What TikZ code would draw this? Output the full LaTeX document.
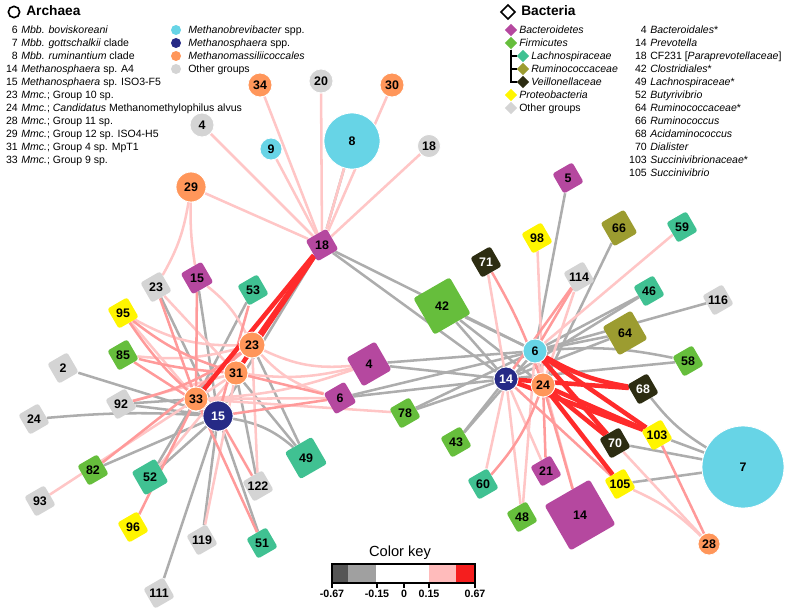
\documentclass[tikz,border=0pt]{standalone}
\usepackage{fontspec}
\setmainfont{Liberation Sans}
\usetikzlibrary{positioning}
\pgfdeclarelayer{background}
\pgfsetlayers{background,main}
\tikzstyle{pixels} = [x=0.75pt, y=-0.75pt]
\definecolor{brevColor}{HTML}{67D4E6}
\definecolor{sphaeraColor}{HTML}{262A86}
\definecolor{massColor}{HTML}{FF965A}
\definecolor{otherColor}{HTML}{D4D4D4}
\definecolor{bacteroColor}{HTML}{B5489F}
\definecolor{firmiColor}{HTML}{66BE3C}
\definecolor{lachnoColor}{HTML}{40C192}
\definecolor{rumiColor}{HTML}{9C9C30}
\definecolor{veilloColor}{HTML}{2D2D12}
\definecolor{proteoColor}{HTML}{FFF500}
\definecolor{negColor}{HTML}{ADADAD}
\definecolor{posLightColor}{HTML}{FFC6C6}
\definecolor{posMidColor}{HTML}{FF9A9A}
\definecolor{posStrongColor}{HTML}{FF2B2B}
\definecolor{keyDark}{HTML}{555555}
\definecolor{keyGray}{HTML}{A0A0A0}
\definecolor{keyPink}{HTML}{FFBBBB}
\definecolor{keyRed}{HTML}{F51E1E}
\tikzstyle{nodeText} = [font=\fontsize{9.3}{9.3}\selectfont\bfseries]
\tikzstyle{archaeonStyle} = [circle, draw=white, line width=0.6pt, inner sep=0pt, nodeText]
\tikzstyle{bacteriumStyle} = [rectangle, rounded corners=2pt, rotate=30, inner sep=0pt]
\tikzstyle{legendText} = [font=\fontsize{7.9}{9}\selectfont, inner sep=0pt]
\tikzstyle{headText} = [font=\fontsize{10.3}{10.3}\selectfont\bfseries, inner sep=0pt]
\tikzstyle{keyLabel} = [font=\fontsize{8}{8}\selectfont\bfseries, inner sep=1pt]
\tikzstyle{negEdge} = [color=negColor, line width=1.9pt]
\tikzstyle{posLightEdge} = [color=posLightColor, line width=1.9pt]
\tikzstyle{posMidEdge} = [color=posMidColor, line width=1.9pt]
\tikzstyle{posStrongEdge} = [color=posStrongColor, line width=3.4pt]
\newcommand{\archaeon}[5]{\node [archaeonStyle, fill=#4, text=#5, minimum size=1.5*#3pt] (a#1) at (#2) {#1};}
\newcommand{\bacterium}[5]{
  \node [bacteriumStyle, fill=#4, minimum size=0.75*#3pt] (b#1) at (#2) {};
  \node [nodeText, text=#5] (t#1) at (b#1.center) {#1};}

\begin{document}
\begin{tikzpicture}[pixels]
  \useasboundingbox (0,0) rectangle (787,610);
  % archaea legend
  \node [circle, draw, line width=1.2pt, minimum size=8.5pt, inner sep=0pt] (archaeaMark) at (14,12) {};
  \node [headText, anchor=mid west] (archaeaHead) at (26,12) {Archaea};
  \foreach \num/\name [count=\row] in {6/\textit{Mbb. boviskoreani},
      7/\textit{Mbb. gottschalkii} clade, 8/\textit{Mbb. ruminantium} clade,
      14/\textit{Methanosphaera} sp. A4, 15/\textit{Methanosphaera} sp. ISO3-F5,
      23/\textit{Mmc.}; Group 10 sp., 24/\textit{Mmc.}; \textit{Candidatus} Methanomethylophilus alvus,
      28/\textit{Mmc.}; Group 11 sp., 29/\textit{Mmc.}; Group 12 sp. ISO4-H5,
      31/\textit{Mmc.}; Group 4 sp. MpT1, 33/\textit{Mmc.}; Group 9 sp.} {
    \node [legendText, anchor=mid east] (archNum\row) at (18,17+13*\row) {\num};
    \node [legendText, anchor=mid west] (archName\row) at (21,17+13*\row) {\name};
  }
  \foreach \col/\name [count=\row] in {brevColor/\textit{Methanobrevibacter} spp.,
      sphaeraColor/\textit{Methanosphaera} spp., massColor/\textit{Methanomassiliicoccales},
      otherColor/Other groups} {
    \node [circle, fill=\col, minimum size=7.5pt, inner sep=0pt] (archDot\row) at (176,17+13*\row) {};
    \node [legendText, anchor=mid west] (archGroup\row) at (188,17+13*\row) {\name};
  }
  % bacteria legend
  \node [rectangle, rotate=45, draw, line width=1.2pt, minimum size=7.5pt, inner sep=0pt] (bacteriaMark) at (508,12) {};
  \node [headText, anchor=mid west] (bacteriaHead) at (521,12) {Bacteria};
  \foreach \col/\xpos/\name [count=\row] in {bacteroColor/511/\textit{Bacteroidetes},
      firmiColor/511/\textit{Firmicutes}, lachnoColor/523/\textit{Lachnospiraceae},
      rumiColor/523/\textit{Ruminococcaceae}, veilloColor/523/\textit{Veillonellaceae},
      proteoColor/511/\textit{Proteobacteria}, otherColor/511/Other groups} {
    \node [rectangle, rotate=45, fill=\col, minimum size=6.5pt, inner sep=0pt] (bactDot\row) at (\xpos,17+13*\row) {};
    \node [legendText, anchor=mid west] (bactGroup\row) at (\xpos+8,17+13*\row) {\name};
  }
  \foreach \row in {3,4,5}
    \draw [line width=1.1pt] (bactDot2) |- (bactDot\row);
  \foreach \num/\name [count=\row] in {4/\textit{Bacteroidales}*, 14/\textit{Prevotella},
      18/CF231 [\textit{Paraprevotellaceae}], 42/\textit{Clostridiales}*,
      49/\textit{Lachnospiraceae}*, 52/\textit{Butyrivibrio}, 64/\textit{Ruminococcaceae}*,
      66/\textit{Ruminococcus}, 68/\textit{Acidaminococcus}, 70/\textit{Dialister},
      103/\textit{Succinivibrionaceae}*, 105/\textit{Succinivibrio}} {
    \node [legendText, anchor=mid east] (bactNum\row) at (647,17+13*\row) {\num};
    \node [legendText, anchor=mid west] (bactName\row) at (650,17+13*\row) {\name};
  }
  % archaea
  \archaeon{34}{260,85}{12}{massColor}{black}
  \archaeon{20}{321,81}{12}{otherColor}{black}
  \archaeon{30}{392,85}{12}{massColor}{black}
  \archaeon{4}{202,125}{12}{otherColor}{black}
  \archaeon{9}{271,149}{11}{brevColor}{black}
  \archaeon{8}{352,141}{28}{brevColor}{black}
  \archaeon{18}{429,146}{11.5}{otherColor}{black}
  \archaeon{29}{191,187}{15}{massColor}{black}
  \archaeon{23}{252,345}{13}{massColor}{black}
  \archaeon{31}{236,373}{12}{massColor}{black}
  \archaeon{33}{196,399}{12}{massColor}{black}
  \archaeon{15}{218,416}{15}{sphaeraColor}{white}
  \archaeon{6}{535,351}{12}{brevColor}{black}
  \archaeon{14}{506,379}{12}{sphaeraColor}{white}
  \archaeon{24}{543,385}{12}{massColor}{black}
  \archaeon{7}{743,467}{41}{brevColor}{black}
  \archaeon{28}{709,544}{11}{massColor}{black}
  % bacteria
  \bacterium{18}{322,245}{24}{bacteroColor}{black}
  \bacterium{15}{197,278}{24}{bacteroColor}{black}
  \bacterium{23}{156,287}{23}{otherColor}{black}
  \bacterium{53}{253,290}{23}{lachnoColor}{black}
  \bacterium{95}{123,313}{23}{proteoColor}{black}
  \bacterium{85}{123,355}{23}{firmiColor}{black}
  \bacterium{2}{63,368}{23}{otherColor}{black}
  \bacterium{4}{369,364}{33}{bacteroColor}{black}
  \bacterium{6}{340,398}{24}{bacteroColor}{black}
  \bacterium{92}{121,404}{23}{otherColor}{black}
  \bacterium{24}{34,419}{23}{otherColor}{black}
  \bacterium{82}{93,470}{23}{firmiColor}{black}
  \bacterium{52}{150,477}{27}{lachnoColor}{black}
  \bacterium{93}{40,501}{23}{otherColor}{black}
  \bacterium{96}{133,527}{23}{proteoColor}{black}
  \bacterium{119}{202,540}{23}{otherColor}{black}
  \bacterium{122}{258,486}{23}{otherColor}{black}
  \bacterium{51}{262,543}{23}{lachnoColor}{black}
  \bacterium{111}{159,593}{23}{otherColor}{black}
  \bacterium{49}{306,458}{31}{lachnoColor}{black}
  \bacterium{78}{405,413}{23}{firmiColor}{black}
  \bacterium{42}{442,306}{42}{firmiColor}{black}
  \bacterium{71}{486,262}{23}{veilloColor}{white}
  \bacterium{98}{537,238}{23}{proteoColor}{black}
  \bacterium{5}{568,178}{23}{bacteroColor}{black}
  \bacterium{114}{579,277}{23}{otherColor}{black}
  \bacterium{66}{619,228}{27}{rumiColor}{black}
  \bacterium{59}{682,227}{23}{lachnoColor}{black}
  \bacterium{46}{649,291}{23}{lachnoColor}{black}
  \bacterium{116}{718,300}{23}{otherColor}{black}
  \bacterium{64}{625,333}{33}{rumiColor}{black}
  \bacterium{58}{688,361}{23}{firmiColor}{black}
  \bacterium{68}{643,389}{23}{veilloColor}{white}
  \bacterium{103}{657,435}{23}{proteoColor}{black}
  \bacterium{70}{615,443}{23}{veilloColor}{white}
  \bacterium{105}{620,484}{23}{proteoColor}{black}
  \bacterium{21}{546,471}{23}{bacteroColor}{black}
  \bacterium{14}{580,515}{52}{bacteroColor}{black}
  \bacterium{48}{522,517}{23}{firmiColor}{black}
  \bacterium{60}{483,484}{23}{lachnoColor}{black}
  \bacterium{43}{456,442}{23}{firmiColor}{black}
  % correlations
  \begin{pgfonlayer}{background}
    \foreach \from/\to/\bend in {b18/a8/0, b18/a15/0, b18/a6/0, b18/a14/0, b15/a15/0,
        b23/a15/0, b53/a33/0, b2/a15/0, b92/a33/0, b92/a15/0, b24/a15/4, b82/a15/0,
        b52/a33/0, b52/a15/0, b119/a15/0, b111/a15/0, b51/a15/0, b122/a31/0, b49/a23/0,
        b49/a31/0, b49/a15/-15, b6/a14/0, b6/a6/0, b78/a14/0, b78/a6/0, b4/a6/0, b4/a14/0,
        b42/a6/0, b42/a14/0, b42/a24/0, b5/a6/0, b66/a24/0, b46/a6/0, b46/a14/0, b116/a6/0,
        b64/a6/0, b64/a14/0, b58/a6/-8, b58/a14/0, b68/a7/-10, b103/a7/0, b70/a7/0,
        b105/a7/0, b43/a14/0, b43/a6/0}
      \draw [negEdge] (\from) to [bend left=\bend] (\to);
    \foreach \from/\to/\bend in {b18/a34/0, b18/a4/0, b18/a9/0, b18/a20/0, b18/a8/0,
        b18/a30/0, b18/a18/0, b18/a29/0, b23/a29/-10, b15/a29/5, b15/a23/12, b23/a31/0,
        b95/a23/-15, b95/a33/0, b85/a23/-10, b92/a31/0, b93/a31/0, b52/a31/0, b119/a31/0,
        b122/a23/0, b6/a23/15, b6/a33/0, b78/a33/0, b4/a23/15, b4/a31/10, b4/a33/8,
        b71/a14/0, b98/a24/0, b114/a24/0, b59/a6/0, b70/a28/0, b105/a28/10, b21/a14/0,
        b14/a6/0, b48/a14/0, b48/a6/0, b60/a14/0}
      \draw [posLightEdge] (\from) to [bend left=\bend] (\to);
    \foreach \from/\to/\bend in {b15/a33/0, b23/a33/0, b53/a15/0, b95/a31/-10, b95/a15/-8,
        b85/a31/-5, b85/a15/0, b92/a23/-10, b82/a23/0, b96/a33/0, b51/a33/0, b122/a15/0,
        b6/a31/0, b6/a15/0, b71/a24/5, b114/a6/0, b114/a14/0, b103/a28/0, b21/a24/0,
        b14/a24/0, b60/a24/-10, b105/a14/0}
      \draw [posMidEdge] (\from) to [bend left=\bend] (\to);
    \foreach \from/\to/\bend in {b18/a23/0, b18/a31/0, b18/a33/0, b68/a6/10, b68/a14/0,
        b103/a6/0, b103/a24/0, b103/a14/0, b70/a6/0, b70/a24/0, b105/a24/0}
      \draw [posStrongEdge] (\from) to [bend left=\bend] (\to);
  \end{pgfonlayer}
  % color key
  \node [font=\fontsize{11}{11}\selectfont, inner sep=0pt] (keyTitle) at (400,553) {Color key};
  \fill [keyDark] (332,564) rectangle (348,583);
  \fill [keyGray] (348,564) rectangle (376,583);
  \fill [keyPink] (429,564) rectangle (456,583);
  \fill [keyRed] (456,564) rectangle (475,583);
  \draw [line width=0.9pt] (332,564) rectangle (475,583);
  \foreach \xpos/\val [count=\i] in {332/-0.67, 377/-0.15, 404/0, 429/0.15, 475/0.67}
    \draw [line width=0.9pt] (\xpos,583) -- (\xpos,588) node [keyLabel, below] (keyTick\i) {\val};
\end{tikzpicture}
\end{document}
